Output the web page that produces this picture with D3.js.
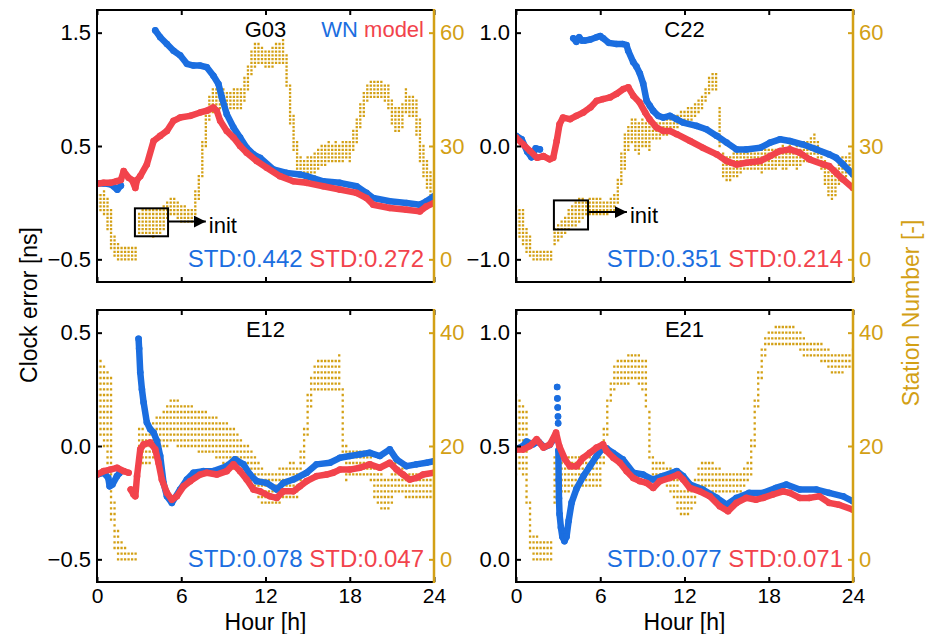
<!DOCTYPE html>
<html><head><meta charset="utf-8">
<script src="https://cdn.jsdelivr.net/npm/d3@7"></script>
<style>
body{margin:0;background:#fff}
svg{display:block;font-family:"Liberation Sans",Arial,Helvetica,sans-serif}
</style>
</head><body><script>
// ---- clock error series: [hour, ns]; null marks a data gap ----
const g03WN = [[0,0.17],[0.5,0.17],[1.0,0.16],[1.45,0.115],[1.7,0.15],[1.75,null],
  [4.15,1.52],[4.5,1.46],[4.98,1.40],[5.45,1.34],[5.92,1.30],[6.4,1.225],[6.87,1.21],[7.35,1.21],[7.82,1.195],
  [8.29,1.12],[8.65,1.047],[8.89,0.929],[9.24,0.781],[9.72,0.663],[10.19,0.574],[10.66,0.485],[11.14,0.426],
  [11.61,0.396],[12.56,0.293],[13.5,0.263],[14.45,0.249],[14.93,0.234],[16.11,0.189],[17.3,0.175],[18.48,0.145],
  [19.19,0.086],[19.67,0.041],[20.85,0.012],[22.04,-0.003],[22.99,-0.018],[23.46,0.012],[24,0.056]];
const g03Model = [[0,0.166],[0.47,0.175],[0.95,0.175],[1.42,0.19],[1.7,0.2],[1.9,0.278],[2.25,0.22],[2.5,0.2],
  [2.73,0.13],[2.85,0.2],[3.08,0.234],[3.55,0.337],[4.03,0.544],[4.5,0.589],[4.98,0.633],[5.45,0.722],[5.92,0.751],
  [6.64,0.766],[7.35,0.796],[7.82,0.811],[8.29,0.84],[8.53,0.811],[8.77,0.722],[9.24,0.633],[9.72,0.574],[10.19,0.5],
  [10.66,0.44],[11.37,0.367],[12.09,0.308],[13.03,0.234],[13.98,0.189],[14.93,0.175],[16.11,0.145],[17.3,0.115],
  [18.48,0.086],[19.19,0.041],[19.67,-0.018],[20.85,-0.047],[22.04,-0.062],[22.99,-0.077],[23.46,-0.033],[24,-0.003]];

const c22WN = [[0,0.09],[0.4,0.06],[0.8,-0.05],[1.1,-0.1],[1.4,-0.02],[1.7,-0.03],[1.75,null],
  [4.08,0.95],[4.3,0.92],[4.5,0.96],[4.7,0.93],[4.9,0.93],[5.3,0.94],[5.74,0.96],[6.0,0.97],[6.21,0.95],[6.6,0.91],
  [7.16,0.9],[7.6,0.9],[7.87,0.89],[7.99,0.84],[8.35,0.74],[8.58,0.7],[8.82,0.64],[9.06,0.55],[9.3,0.4],[9.53,0.355],
  [9.77,0.31],[10.13,0.266],[10.48,0.251],[10.96,0.266],[11.43,0.237],[11.9,0.207],[12.85,0.178],[13.55,0.148],
  [14.3,0.089],[15.0,0.03],[15.7,-0.03],[16.4,-0.03],[17.4,-0.015],[18.1,0.03],[18.8,0.059],[19.5,0.044],[20.4,0.015],
  [21.4,-0.03],[22.3,-0.074],[22.8,-0.104],[23.3,-0.163],[24,-0.251]];
const c22Model = [[0,0.074],[0.5,0.015],[1.0,-0.044],[1.5,-0.104],[1.95,-0.089],[2.4,-0.118],[2.65,-0.104],[2.9,0.044],
  [3.1,0.192],[3.35,0.251],[3.85,0.237],[4.3,0.266],[4.8,0.296],[5.3,0.34],[5.75,0.399],[6.2,0.414],[6.7,0.429],
  [7.15,0.459],[7.65,0.503],[8.0,0.518],[8.35,0.444],[8.8,0.385],[9.2,0.296],[9.5,0.237],[10.0,0.163],[10.5,0.133],
  [10.95,0.133],[11.45,0.104],[12.4,0.044],[13.3,-0.015],[14.3,-0.074],[15.0,-0.133],[15.7,-0.163],[16.4,-0.148],
  [17.4,-0.133],[18.1,-0.089],[18.8,-0.044],[19.5,-0.03],[20.2,-0.059],[20.9,-0.118],[21.9,-0.163],[22.3,-0.178],
  [22.8,-0.237],[23.3,-0.296],[24,-0.37]];

const e12WN = [[0,-0.126],[0.47,-0.118],[0.8,-0.14],[0.9,-0.178],[1.1,-0.17],[1.42,-0.133],[1.6,-0.12],[1.7,null],
  [2.96,0.473],[3.0,0.43],[3.08,0.325],[3.2,0.25],[3.32,0.192],[3.55,0.104],[3.79,0.074],[4.03,0.059],[4.27,0.022],
  [4.5,-0.044],[4.74,-0.163],[4.98,-0.222],[5.33,-0.251],[5.92,-0.192],[6.4,-0.148],[6.87,-0.118],[7.58,-0.111],
  [8.29,-0.111],[9.24,-0.089],[9.83,-0.059],[10.43,-0.081],[10.9,-0.126],[11.37,-0.155],[12.09,-0.163],[12.8,-0.192],
  [13.27,-0.163],[13.98,-0.148],[14.93,-0.118],[15.64,-0.081],[16.59,-0.074],[17.3,-0.052],[18.01,-0.044],
  [18.72,-0.037],[19.43,-0.03],[20.14,-0.044],[20.85,-0.015],[21.33,-0.059],[22.04,-0.089],[22.75,-0.081],
  [23.46,-0.074],[24,-0.067]];
const e12Model = [[0,-0.126],[0.47,-0.111],[0.95,-0.104],[1.42,-0.096],[1.9,-0.111],[2.25,-0.118],[2.3,null],
  [2.4,-0.192],[2.6,-0.214],[2.73,-0.222],[2.85,-0.133],[3.08,-0.015],[3.32,0.007],[3.79,0.015],[4.15,-0.015],
  [4.38,-0.074],[4.62,-0.148],[4.98,-0.207],[5.33,-0.237],[5.69,-0.222],[6.16,-0.178],[6.64,-0.155],[7.35,-0.126],
  [7.82,-0.118],[8.53,-0.126],[9.24,-0.111],[9.72,-0.081],[10.19,-0.111],[10.66,-0.148],[11.14,-0.192],[11.61,-0.2],
  [12.32,-0.222],[12.8,-0.229],[13.27,-0.2],[13.98,-0.2],[14.45,-0.178],[14.93,-0.155],[15.64,-0.133],[16.35,-0.126],
  [16.82,-0.118],[17.3,-0.104],[18.01,-0.104],[18.72,-0.096],[19.43,-0.081],[20.14,-0.096],[20.85,-0.074],
  [21.33,-0.104],[21.8,-0.126],[22.27,-0.148],[22.75,-0.141],[23.22,-0.126],[24,-0.118]];

const e21WN = [[0,0.485],[0.5,0.5],[0.75,0.52],[1.2,0.507],[1.6,0.52],[2.0,0.495],[2.4,0.505],[2.8,0.54],[2.85,null],
  [2.93,0.76],[2.935,null],[2.95,0.71],[2.955,null],[2.97,0.67],[2.975,null],[2.99,0.63],[2.995,null],[3.0,0.6],
  [3.005,null],[3.02,0.48],[3.04,0.35],[3.06,0.27],[3.1,0.2],[3.2,0.14],[3.3,0.1],[3.45,0.08],[3.6,0.1],[3.75,0.17],
  [3.96,0.25],[4.3,0.31],[4.8,0.367],[5.26,0.41],[5.74,0.456],[6.1,0.485],[6.45,0.49],[6.9,0.47],[7.6,0.441],
  [8.35,0.382],[9.05,0.374],[9.75,0.352],[10.45,0.367],[11.45,0.389],[11.9,0.367],[12.4,0.33],[13.3,0.308],
  [14.3,0.271],[15.0,0.241],[15.7,0.271],[16.6,0.293],[17.6,0.293],[18.5,0.315],[19.25,0.33],[20.2,0.308],
  [21.4,0.308],[22.3,0.293],[23.3,0.278],[24,0.256]];
const e21Model = [[0,0.485],[0.52,0.485],[0.99,0.5],[1.47,0.53],[1.95,0.493],[2.42,0.507],[2.85,0.559],[3.08,0.5],
  [3.49,0.441],[3.84,0.411],[4.32,0.411],[4.79,0.448],[5.26,0.47],[5.74,0.493],[6.2,0.507],[6.45,0.478],[6.93,0.448],
  [7.4,0.426],[7.88,0.389],[8.35,0.359],[8.82,0.345],[9.3,0.337],[9.77,0.315],[10.24,0.345],[10.95,0.359],
  [11.55,0.374],[11.9,0.352],[12.38,0.315],[13.09,0.3],[13.8,0.278],[14.51,0.234],[15.1,0.212],[15.7,0.249],
  [16.4,0.271],[17.1,0.263],[17.6,0.271],[18.3,0.286],[19.02,0.3],[19.5,0.293],[20.2,0.271],[20.9,0.271],
  [21.6,0.278],[22.3,0.249],[23.0,0.241],[24,0.219]];

// ---- station number range (lowest / highest count) per 15-minute epoch ----
const epochHours = d3.range(0, 24.001, 0.25);
const g03StationLo = [14,13,12,8,3,1,0,0,0,0,0,0, 7,7,7,7,6,7,7,8,11,12,12,11,10,10,10,10,
  12,16,22,30,37,39,39,40,40,40,40,40,40,40, 42,45,49,51,52,52,51,51,51,52,52,52,
  46,36,29,23,20,20,21,21,22,24,25,25,26,26,26,26,26,27,26, 29,31,35,38,42,43,43,43,43,42,40,36,34,34,35,39,38,38,33,26,22,19,17,15];
const g03StationHi = [17,17,18,16,13,6,4,3,3,3,3,3, 12,13,13,13,13,13,13,14,15,16,16,15,14,14,13,13,
  18,22,31,38,43,45,45,45,45,44,44,45,45,45, 48,51,55,57,57,56,55,55,56,57,57,58,
  54,46,38,31,27,26,27,27,28,29,30,30,31,30,31,30,31,31,31, 34,37,41,44,46,47,47,47,47,46,46,42,40,40,41,45,43,43,42,37,30,26,23,21];
const c22StationLo = [7,6,4,2,1,0,0,0,0,0,0,4, 5,6,7,8,9,9,10,11,12,12,12,12,12,12,12,13,
  13,15,20,24,29,31,29,28,30,30,29,32,32,32, 33,33,34,34,35,36,36,37,37,38,39,40,
  42,44,45,45,30,22,21,21,22,22,23,24,24,24,24,24,23,24,24, 24,24,25,24,24,25,25,24,25,26,26,27,28,26,24,20,17,16,17,20,22,22,23,23];
const c22StationHi = [14,13,13,8,6,2,2,2,2,2,2,8, 9,10,11,13,14,15,16,16,15,16,16,16,16,15,15,16,
  17,21,28,33,35,37,37,36,37,36,36,36,36,36, 37,37,37,38,38,39,39,40,40,41,42,43,
  45,48,49,49,40,28,27,27,28,28,28,29,29,29,29,29,29,29,29, 29,29,29,30,29,30,29,30,30,31,31,32,33,31,29,26,25,24,24,26,27,27,28,28];
const e12StationLo = [24,22,20,14,7,2,0,0,0,0,0,0, 17,17,17,17,18,19,20,20,20,21,21,20,20,20,20,20,
  20,19,19,19,19,19,18,18,17,17,17,16,16,16, 15,14,13,12,11,10,10,10,10,10,10,11,
  11,11,11,11,14,17,22,27,30,30,30,30,30,30,30,30,18,14,15, 15,15,15,15,15,14,11,10,9,9,9,10,12,12,12,11,11,11,11,11,11,11,11,11];
const e12StationHi = [34,35,34,33,32,10,5,3,2,1,1,1, 23,23,22,23,24,25,25,26,27,28,28,28,27,27,27,27,
  26,26,26,26,25,25,25,24,24,24,23,23,22,21, 20,20,19,18,17,16,15,15,15,15,16,16,
  16,17,17,16,19,23,29,32,34,35,35,35,35,35,35,36,30,20,19, 19,19,19,19,19,18,16,15,15,14,14,15,17,17,16,15,15,15,15,15,15,15,15,15];
const e21StationLo = [15,16,15,10,2,0,0,0,0,0,0,10, 12,12,12,12,13,13,13,13,13,13,13,13,13,17,22,28,
  30,31,31,31,31,32,32,31,30,27,18,15,15,15, 15,13,12,11,9,8,8,8,9,10,12,12,
  12,12,12,11,12,12,12,12,12,12,12,13,14,15,20,27,32,36,38, 38,38,38,38,38,38,38,38,37,36,36,36,36,36,35,35,34,33,33,33,33,34,34,34];
const e21StationHi = [29,28,27,26,10,4,4,3,3,3,3,18, 19,19,18,18,18,18,18,18,18,18,18,17,18,23,28,31,
  34,35,35,35,36,36,36,36,35,35,26,18,17,17, 17,16,16,15,14,12,12,12,13,14,16,17,
  17,17,17,16,16,15,15,15,15,15,15,16,17,21,28,33,37,39,40, 40,41,41,41,41,41,41,40,40,39,38,38,38,38,38,37,37,36,36,36,36,36,36,37];

// ---- panel labels and statistics ----
const satellites = ["G03", "C22", "E12", "E21"];
const stdWN = ["0.442", "0.351", "0.078", "0.077"];
const stdModel = ["0.272", "0.214", "0.047", "0.071"];
const hourTicks = [0, 6, 12, 18, 24];
const errorTicks = [[-0.5, 0.5, 1.5], [-1, 0, 1], [-0.5, 0, 0.5], [0, 0.5, 1]];
const stationTicks = [[0, 30, 60], [0, 30, 60], [0, 20, 40], [0, 20, 40]];

// ---- layout ----
const W = 933, H = 634;
const BLUE = "#1B6EE0", RED = "#F2434C", GOLD = "#D3A015";
const FONT = 22;
const panels = [
  {x0: 97,  x1: 434, y0: 10,  y1: 282, yDom: [-0.7, 1.7], sDom: [-6, 66], wn: g03WN, model: g03Model, lo: g03StationLo, hi: g03StationHi, xLabels: false, legend: true,
   init: {h0: 2.7, h1: 5.06, s0: 6.1, s1: 13.5, sArrow: 10, hArrow: 7.75}},
  {x0: 516, x1: 853, y0: 10,  y1: 282, yDom: [-1.2, 1.2], sDom: [-6, 66], wn: c22WN, model: c22Model, lo: c22StationLo, hi: c22StationHi, xLabels: false, legend: false,
   init: {h0: 2.7, h1: 5.13, s0: 7.9, s1: 15.6, sArrow: 12.5, hArrow: 7.9}},
  {x0: 97,  x1: 434, y0: 310, y1: 582, yDom: [-0.6, 0.6], sDom: [-4, 44], wn: e12WN, model: e12Model, lo: e12StationLo, hi: e12StationHi, xLabels: true, legend: false},
  {x0: 516, x1: 853, y0: 310, y1: 582, yDom: [-0.1, 1.1], sDom: [-4, 44], wn: e21WN, model: e21Model, lo: e21StationLo, hi: e21StationHi, xLabels: true, legend: false}
];

const svg = d3.select("body").append("svg").attr("width", W).attr("height", H);
svg.append("rect").attr("width", W).attr("height", H).attr("fill", "#fff");

const defs = svg.append("defs");
defs.append("marker").attr("id", "arrowHead").attr("markerUnits", "userSpaceOnUse")
  .attr("markerWidth", 14).attr("markerHeight", 14).attr("refX", 12).attr("refY", 6)
  .attr("orient", "auto")
  .append("path").attr("d", "M0,0 L12,6 L0,12 Z").attr("fill", "#000");

const fmt = d3.format(".1f");

panels.forEach((p, i) => {
  const x = d3.scaleLinear().domain([0, 24]).range([p.x0, p.x1]);
  const y = d3.scaleLinear().domain(p.yDom).range([p.y1, p.y0]);
  const s = d3.scaleLinear().domain(p.sDom).range([p.y1, p.y0]);
  const g = svg.append("g");

  defs.append("clipPath").attr("id", "clip" + i)
    .append("rect").attr("x", p.x0).attr("y", p.y0).attr("width", p.x1 - p.x0).attr("height", p.y1 - p.y0);
  const plot = g.append("g").attr("clip-path", `url(#clip${i})`);

  // station counts: one dotted column per epoch, a dot at each integer count
  const step = s(0) - s(1);
  const dot = 2.3;
  plot.append("g").selectAll("line").data(epochHours).join("line")
    .attr("x1", d => x(d)).attr("x2", d => x(d))
    .attr("y1", (d, k) => s(p.lo[k]) + dot / 2)
    .attr("y2", (d, k) => s(p.hi[k]) - dot / 2)
    .attr("stroke", GOLD).attr("stroke-width", dot)
    .attr("stroke-dasharray", `${dot} ${step - dot}`);

  // clock error series, WN underneath model
  const line = d3.line().defined(d => d[1] !== null).x(d => x(d[0])).y(d => y(d[1]));
  [[p.wn, BLUE], [p.model, RED]].forEach(([data, col]) => {
    plot.append("path").datum(data).attr("d", line)
      .attr("fill", "none").attr("stroke", col).attr("stroke-width", 6.5)
      .attr("stroke-linejoin", "round").attr("stroke-linecap", "round");
    plot.append("g").selectAll("circle").data(data.filter(d => d[1] !== null)).join("circle")
      .attr("cx", d => x(d[0])).attr("cy", d => y(d[1])).attr("r", 3.3).attr("fill", col);
  });

  // init annotation
  if (p.init) {
    const a = p.init;
    g.append("rect").attr("x", x(a.h0)).attr("y", s(a.s1))
      .attr("width", x(a.h1) - x(a.h0)).attr("height", s(a.s0) - s(a.s1))
      .attr("fill", "none").attr("stroke", "#000").attr("stroke-width", 2);
    g.append("line").attr("x1", x(a.h1)).attr("x2", x(a.hArrow))
      .attr("y1", s(a.sArrow)).attr("y2", s(a.sArrow))
      .attr("stroke", "#000").attr("stroke-width", 2).attr("marker-end", "url(#arrowHead)");
    g.append("text").attr("x", x(a.hArrow) + 3).attr("y", s(a.sArrow) + 11)
      .attr("font-size", FONT).attr("fill", "#000").text("init");
  }

  // axes
  const left = g.append("g").attr("transform", `translate(${p.x0},0)`)
    .call(d3.axisLeft(y).tickValues(errorTicks[i]).tickSize(-5).tickPadding(6).tickFormat(fmt));
  const right = g.append("g").attr("transform", `translate(${p.x1},0)`)
    .call(d3.axisRight(s).tickValues(stationTicks[i]).tickSize(-5).tickPadding(6).tickFormat(d3.format("d")));
  const bottom = g.append("g").attr("transform", `translate(0,${p.y1})`)
    .call(d3.axisBottom(x).tickValues(hourTicks).tickSize(-5).tickPadding(6));
  const top = g.append("g").attr("transform", `translate(0,${p.y0})`)
    .call(d3.axisTop(x).tickValues(hourTicks).tickSize(-5).tickFormat(""));
  [left, right, bottom, top].forEach(ax => {
    ax.select(".domain").remove();
    ax.selectAll("text").attr("font-size", FONT).attr("font-family", null);
    ax.selectAll("line").attr("stroke-width", 2);
  });
  bottom.selectAll("text").attr("font-size", 21);
  right.selectAll("line").attr("stroke", GOLD);
  right.selectAll("text").attr("fill", GOLD);
  if (!p.xLabels) bottom.selectAll("text").remove();

  // frame: black on three sides, gold for the station axis
  g.append("path")
    .attr("d", `M${p.x1},${p.y0} H${p.x0} V${p.y1} H${p.x1}`)
    .attr("fill", "none").attr("stroke", "#000").attr("stroke-width", 2);
  g.append("line").attr("x1", p.x1).attr("x2", p.x1).attr("y1", p.y0 - 1).attr("y2", p.y1 + 1)
    .attr("stroke", GOLD).attr("stroke-width", 2.5);

  // satellite name
  g.append("text").attr("x", (p.x0 + p.x1) / 2).attr("y", p.y0 + 27)
    .attr("text-anchor", "middle").attr("font-size", FONT).text(satellites[i]);

  if (p.legend) {
    const lg = g.append("text").attr("x", p.x1 - 10).attr("y", p.y0 + 27)
      .attr("text-anchor", "end").attr("font-size", FONT);
    lg.append("tspan").attr("fill", BLUE).text("WN");
    lg.append("tspan").attr("fill", RED).text(" model");
  }

  const st = g.append("text").attr("x", p.x1 - 10).attr("y", p.y1 - 15)
    .attr("text-anchor", "end").attr("font-size", 24);
  st.append("tspan").attr("fill", BLUE).text("STD:" + stdWN[i]);
  st.append("tspan").attr("fill", RED).text(" STD:" + stdModel[i]);

  if (p.xLabels) {
    g.append("text").attr("x", (p.x0 + p.x1) / 2).attr("y", 630)
      .attr("text-anchor", "middle").attr("font-size", 23).text("Hour [h]");
  }
});

// shared axis titles
svg.append("text").attr("transform", "translate(37,305) rotate(-90)")
  .attr("text-anchor", "middle").attr("font-size", 23).text("Clock error [ns]");
svg.append("text").attr("transform", "translate(919,313) rotate(-90)")
  .attr("text-anchor", "middle").attr("font-size", 23).attr("fill", GOLD).text("Station Number [-]");
</script></body></html>
